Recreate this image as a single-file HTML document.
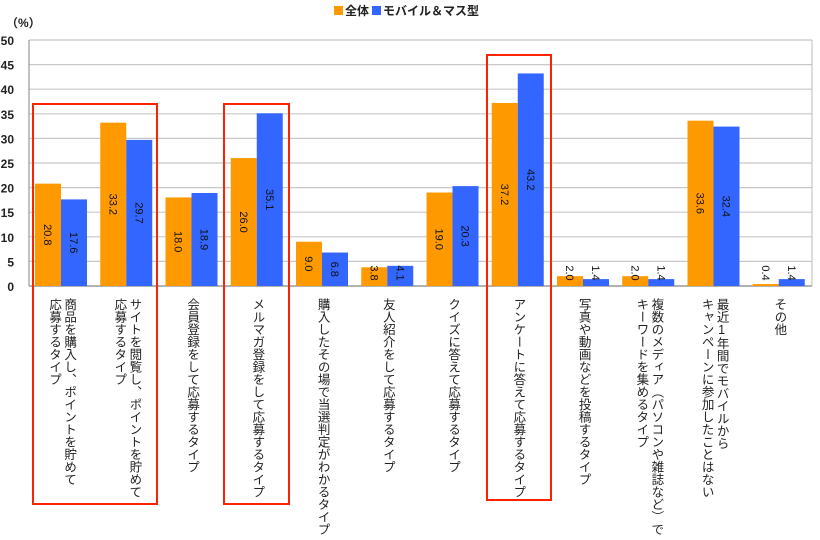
<!DOCTYPE html>
<html><head><meta charset="utf-8"><style>
body{margin:0;background:#fff;}
svg{display:block;font-family:"Liberation Sans","Noto Sans CJK JP",sans-serif;}
</style></head><body>
<svg id="c" width="820" height="540"></svg>
<script>
const categories=["商品を購入し、ポイントを貯めて|応募するタイプ","サイトを閲覧し、ポイントを貯めて|応募するタイプ","会員登録をして応募するタイプ","メルマガ登録をして応募するタイプ","購入したその場で当選判定がわかるタイプ","友人紹介をして応募するタイプ","クイズに答えて応募するタイプ","アンケートに答えて応募するタイプ","写真や動画などを投稿するタイプ","複数のメディア（パソコンや雑誌など）で|キーワードを集めるタイプ","最近1年間でモバイルから|キャンペーンに参加したことはない","その他"];
const totalValues=[20.8,33.2,18.0,26.0,9.0,3.8,19.0,37.2,2.0,2.0,33.6,0.4];
const mobileValues=[17.6,29.7,18.9,35.1,6.8,4.1,20.3,43.2,1.4,1.4,32.4,1.4];
const yTicks=[0,5,10,15,20,25,30,35,40,45,50];
const seriesNames=["全体","モバイル＆マス型"];

const NS="http://www.w3.org/2000/svg";
const svg=document.getElementById('c');
const L=29,R=812,T=40,B=286;
const y=v=>B-(v/50)*(B-T);
const cw=(R-L)/categories.length;
const x=i=>L+i*cw;
function mk(tag,attrs,parent){const e=document.createElementNS(NS,tag);for(const k in attrs)e.setAttribute(k,attrs[k]);(parent||svg).appendChild(e);return e;}

yTicks.forEach(t=>{
  const g=mk('line',{x1:L,x2:R,y1:y(t),y2:y(t),stroke:t===0?'#999':'#c8c8c8','stroke-width':t===0?1.5:1.2});
  
  
  const tx=mk('text',{x:14,y:y(t)+5,'text-anchor':'end','font-size':12,'font-weight':'bold',fill:'#222'});
  tx.textContent=t;
  
  
});
const ax=mk('line',{x1:L,x2:L,y1:T,y2:B,stroke:'#999','stroke-width':1.2});


const ar=mk('line',{x1:R,x2:R,y1:T,y2:B,stroke:'#bbb','stroke-width':1});


const unit=mk('text',{x:6,y:27,'font-size':12,'font-weight':'bold',fill:'#222'});
unit.textContent='（%）';



const bw=26;
function valLabel(v,cx){
  const top=y(v);
  let cy=(v<5)?273:(top+B)/2;
  const t=mk('text',{x:0,y:0,transform:`translate(${cx-4},${cy}) rotate(90)`,'text-anchor':'middle','font-size':11,fill:'#111'});
  t.textContent=v.toFixed(1);
  
  
}
categories.forEach((c,i)=>{
  const x0=x(i)+6;
  const b1=mk('rect',{x:x0,y:y(totalValues[i]),width:bw,height:B-y(totalValues[i]),fill:'#ff9900'});
  
  
  const b2=mk('rect',{x:x0+bw,y:y(mobileValues[i]),width:bw,height:B-y(mobileValues[i]),fill:'#3366ff'});
  
  
  valLabel(totalValues[i],x0+bw/2);
  valLabel(mobileValues[i],x0+bw*1.5);
  const lines=c.split('|');
  const cx=x(i)+cw/2;
  const g=mk('g',{});
  
  
  lines.forEach((ln,k)=>{
    const off=lines.length===1?0:(k===0?7.5:-7.5);
    const ts=mk('text',{x:cx+off,y:298,'font-size':12.5,fill:'#222',style:'writing-mode:vertical-rl;text-orientation:upright;'},g);
    ts.textContent=ln;
  });
});
const boxes=[[33,104,157,504],[224,104,289,504],[487,55,551,500]];
boxes.forEach((b,i)=>{
  const r=mk('rect',{x:b[0],y:b[1],width:b[2]-b[0],height:b[3]-b[1],fill:'none',stroke:'#ff2200','stroke-width':2});
  
  
});
const lg=mk('g',{});


mk('rect',{x:334,y:6,width:9,height:9,fill:'#ff9900'},lg);
const t1=mk('text',{x:345,y:15,'font-size':12,'font-weight':'bold',fill:'#222'},lg);t1.textContent=seriesNames[0];


mk('rect',{x:372,y:6,width:9,height:9,fill:'#3366ff'},lg);
const t2=mk('text',{x:383,y:15,'font-size':12,'font-weight':'bold',fill:'#222'},lg);t2.textContent=seriesNames[1];


</script>
</body></html>
